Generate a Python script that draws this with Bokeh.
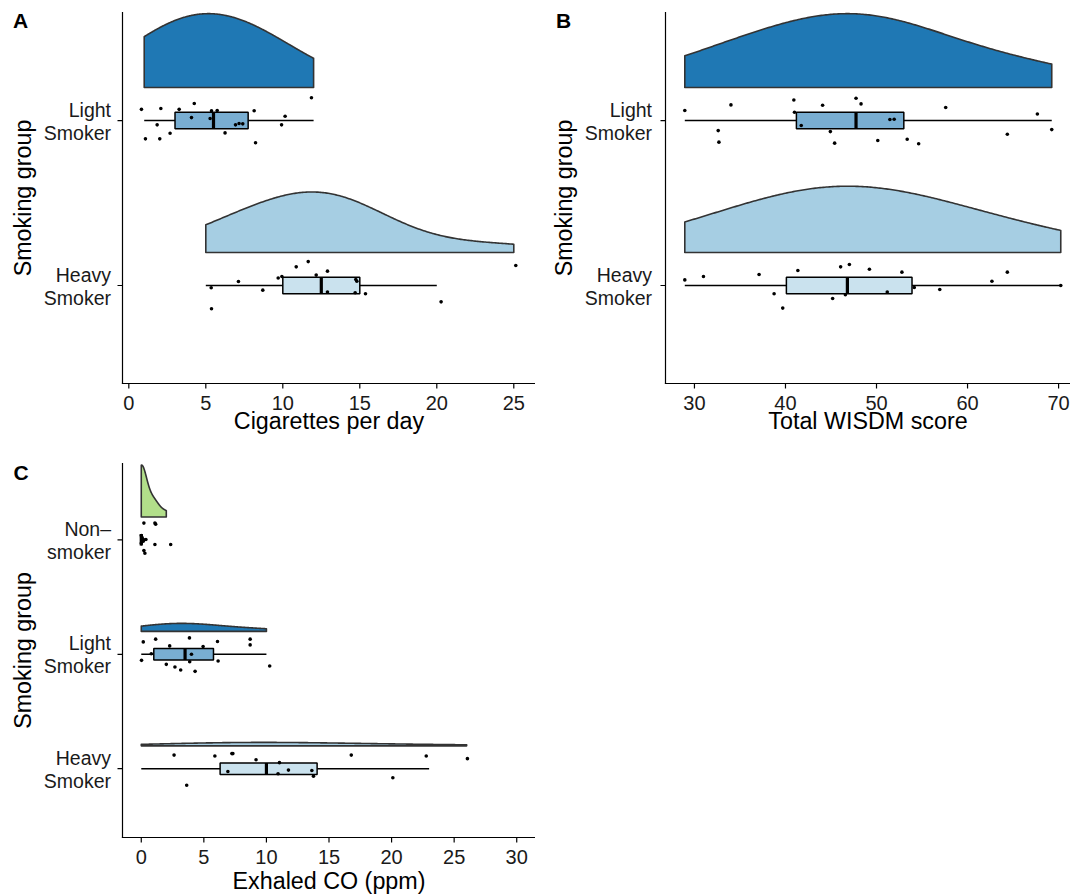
import numpy as np
from bokeh.plotting import figure
from bokeh.layouts import row, column
from bokeh.models import Range1d
from bokeh.core.properties import value
from bokeh.embed import file_html
from bokeh.resources import INLINE

FONT = "Liberation Sans"

# ---------------- data ----------------
# Panel A: cigarettes per day (points are plotted positions, jitter in group units)
cig_light_x = [0.82, 2.08, 3.27, 4.25, 5.37, 5.74, 8.14, 11.86, 4.07, 5.28, 10.15,
               1.84, 6.93, 7.16, 7.40, 9.92, 2.68, 6.25, 1.08, 2.01, 8.23]
cig_light_jit = [0.068, 0.073, 0.068, 0.103, 0.059, 0.061, 0.059, 0.138, 0.018, 0.012, 0.026,
                 -0.026, -0.026, -0.018, -0.020, -0.026, -0.077, -0.075, -0.111, -0.111, -0.135]
cig_heavy_x = [25.13, 11.65, 10.87, 12.90, 12.17, 9.70, 9.94, 7.12, 14.74, 14.81, 5.35,
               8.70, 12.90, 14.70, 15.37, 20.28, 5.37]
cig_heavy_jit = [0.121, 0.145, 0.113, 0.087, 0.063, 0.046, 0.055, 0.024, 0.036, 0.026, -0.014,
                 -0.028, -0.040, -0.044, -0.050, -0.099, -0.141]
# box stats: whisker low, Q1, median, Q3, whisker high
cig_light_box = [1, 3, 5.5, 7.75, 12]
cig_heavy_box = [5, 10, 12.5, 15, 20]
cig_light_range = [1, 12]
cig_heavy_range = [5, 25]

# Panel B: total WISDM score
wis_light_x = [28.94, 34.01, 40.92, 40.99, 44.08, 47.75, 48.30, 57.60, 67.67, 51.47, 51.94,
               32.61, 41.73, 44.93, 69.25, 32.69, 45.40, 50.14, 53.37, 54.63, 64.37]
wis_light_jit = [0.061, 0.095, 0.125, 0.050, 0.093, 0.135, 0.101, 0.079, 0.040, 0.006, 0.008,
                 -0.061, -0.030, -0.067, -0.055, -0.131, -0.137, -0.121, -0.113, -0.141, -0.083]
wis_heavy_x = [28.94, 30.99, 37.10, 41.36, 46.06, 47.02, 49.22, 52.79, 62.68, 64.37, 70.24,
               54.15, 51.18, 56.95, 38.75, 46.58, 45.18, 39.70]
wis_heavy_jit = [0.034, 0.055, 0.067, 0.091, 0.113, 0.127, 0.099, 0.081, 0.026, 0.081, 0.000,
                 -0.012, -0.040, -0.024, -0.050, -0.056, -0.079, -0.137]
wis_light_box = [28.94, 41.2, 47.75, 53.0, 69.25]
wis_heavy_box = [28.94, 40.1, 46.8, 53.9, 70.24]
wis_light_range = [28.94, 69.25]
wis_heavy_range = [28.94, 70.24]

# Panel C: exhaled CO (ppm)
co_non_x = [0.21, 1.09, 1.15, 0.00, 0.08, 0.21, 0.37, 0.00, 0.16, 0.05, 1.09, 2.35, 0.21, 0.29]
co_non_jit = [0.146, 0.146, 0.137, 0.038, 0.009, 0.000, 0.003, -0.030, -0.012, 0.023,
              -0.041, -0.041, -0.094, -0.117]
co_light_x = [0.16, 1.15, 3.85, 6.09, 8.70, 8.70, 2.27, 4.94, 0.80, 4.01, 0.02, 3.87, 6.14,
              10.26, 2.00, 2.69, 3.15, 4.30]
co_light_jit = [0.108, 0.132, 0.143, 0.111, 0.132, 0.082, 0.073, 0.067, 0.005, 0.000, -0.053,
                -0.065, -0.059, -0.103, -0.088, -0.111, -0.138, -0.149]
co_heavy_x = [2.62, 5.88, 7.24, 7.32, 9.17, 11.04, 11.76, 13.63, 13.76, 10.93, 6.92, 3.63,
              16.78, 22.77, 26.06, 20.10]
co_heavy_jit = [0.119, 0.111, 0.132, 0.132, 0.079, 0.053, -0.012, -0.015, -0.065, -0.044,
                -0.024, -0.144, 0.119, 0.111, 0.088, -0.079]
co_non_box = [0, 0, 0, 0, 0]
co_light_box = [0, 1.0, 3.5, 5.77, 10.0]
co_heavy_box = [0, 6.3, 10.0, 14.05, 23.0]
co_non_range = [0, 2.0]
co_light_range = [0, 10]
co_heavy_range = [0, 26]

cig_ticks = [0, 5, 10, 15, 20, 25]
wis_ticks = [30, 40, 50, 60, 70]
co_ticks = [0, 5, 10, 15, 20, 25, 30]
smoker_groups = {1: ("Heavy", "Smoker"), 2: ("Light", "Smoker")}
all_groups = {1: ("Heavy", "Smoker"), 2: ("Light", "Smoker"), 3: ("Non\u2013", "smoker")}

# ---------------- styling ----------------
COL_LIGHT = "#1F78B4"
COL_HEAVY = "#A6CEE3"
COL_NON = "#B2DF8A"
BOX_LIGHT = "#79AED2"
BOX_HEAVY = "#CAE2EE"
BOX_NON = "#D1ECB9"
OUTLINE = "#333333"
TEXT_COL = "#1a1a1a"

VIOLIN_OFFSET = 0.2
BOX_HALF = 0.05
# the svg text anchor sits this many em below the true baseline
BASELINE_FIX = 0.40


class Panel:
    """A figure whose frame fills the canvas; the plotting panel sits at
    pixel box (L, T, R, B) and shows xlim x ylim."""

    def __init__(self, W, H, L, T, R, B, xlim, ylim):
        self.sx = (R - L) / (xlim[1] - xlim[0])
        self.sy = (B - T) / (ylim[1] - ylim[0])
        self.xr = (xlim[0] - L / self.sx, xlim[1] + (W - R) / self.sx)
        self.yr = (ylim[0] - (H - B) / self.sy, ylim[1] + T / self.sy)
        self.xlim, self.ylim = xlim, ylim
        p = figure(width=W, height=H, x_range=Range1d(*self.xr), y_range=Range1d(*self.yr),
                   x_axis_location=None, y_axis_location=None, min_border=0,
                   output_backend="svg", toolbar_location=None)
        p.outline_line_color = None
        p.background_fill_color = "white"
        p.border_fill_color = "white"
        p.xgrid.visible = False
        p.ygrid.visible = False
        self.p = p

    def px(self, x):
        return self.xr[0] + x / self.sx

    def py(self, y):
        return self.yr[1] - y / self.sy

    def text(self, x, y, s, size, align="center", angle=0.0, bold=False, color=TEXT_COL):
        d = BASELINE_FIX * size
        dx = -np.sin(angle) * d / self.sx
        dy = np.cos(angle) * d / self.sy
        self.p.text(x=[v + dx for v in x], y=[v + dy for v in y], text=s,
                    text_font=value(FONT), text_font_size=f"{size}px",
                    text_align=align, text_baseline="alphabetic", angle=angle,
                    text_font_style="bold" if bold else "normal", text_color=color)

    def axes(self, xticks, xlabel, groups, label_gap, title_base, ytitle_x, letter, letter_xy):
        p = self.p
        x0, x1 = self.xlim
        y0, y1 = self.ylim
        p.segment(x0=[x0, x0], y0=[y0, y0], x1=[x0, x1], y1=[y1, y0],
                  line_color="black", line_width=1.2, line_cap="square")
        # x axis ticks and labels
        n = len(xticks)
        p.segment(x0=xticks, y0=[y0] * n, x1=xticks, y1=[y0 - 5 / self.sy] * n,
                  line_color="black", line_width=1.2)
        self.text(xticks, [y0 - 27 / self.sy] * n, [str(t) for t in xticks], 20)
        self.text([(x0 + x1) / 2], [y0 - title_base / self.sy], [xlabel], 23.3, color="black")
        # y axis ticks and two-line group labels
        pos = list(groups.keys())
        m = len(pos)
        p.segment(x0=[x0 - 5 / self.sx] * m, y0=pos, x1=[x0] * m, y1=pos,
                  line_color="black", line_width=1.2)
        lx = [x0 - label_gap / self.sx] * m
        self.text(lx, [g + 3 / self.sy for g in pos], [groups[g][0] for g in pos],
                  19.5, align="right")
        self.text(lx, [g - 20 / self.sy for g in pos], [groups[g][1] for g in pos],
                  19.5, align="right")
        self.text([self.px(ytitle_x)], [(y0 + y1) / 2], ["Smoking group"], 23.3,
                  angle=np.pi / 2, color="black")
        self.text([self.px(letter_xy[0])], [self.py(letter_xy[1])], [letter], 21,
                  align="left", bold=True, color="black")


def half_violin(pn, vals, rng, bw, peak, pos, fill):
    lo, hi = rng
    grid = np.linspace(lo, hi, 240)
    v = np.asarray(vals, dtype=float)
    dens = np.exp(-0.5 * ((grid[:, None] - v[None, :]) / bw) ** 2).sum(axis=1)
    dens = dens / dens.max() * peak
    base = pos + VIOLIN_OFFSET
    xs = np.concatenate([[lo], grid, [hi]])
    ys = np.concatenate([[base], base + dens, [base]])
    pn.p.patch(xs, ys, fill_color=fill, line_color=OUTLINE, line_width=1.6, line_join="round")


def boxplot(pn, stats, pos, fill):
    p = pn.p
    wlo, q1, med, q3, whi = stats
    p.segment(x0=[wlo, q3], y0=[pos, pos], x1=[q1, whi], y1=[pos, pos],
              line_color="black", line_width=1.4)
    p.quad(left=[q1], right=[q3], bottom=[pos - BOX_HALF], top=[pos + BOX_HALF],
           fill_color=fill, line_color="black", line_width=1.5)
    p.segment(x0=[med], y0=[pos - BOX_HALF], x1=[med], y1=[pos + BOX_HALF],
              line_color="black", line_width=3.2)


def jitter_points(pn, xs, jit, pos):
    pn.p.scatter(xs, [pos + j for j in jit], size=3.6, color="black", line_color=None)


# ---------------- Panel A ----------------
A = Panel(535, 447, 122, 12, 535, 383, (-0.41, 26.41), (0.406, 2.655))
half_violin(A, cig_light_x, cig_light_range, 3.5, 0.448, 2, COL_LIGHT)
half_violin(A, cig_heavy_x, cig_heavy_range, 3.5, 0.367, 1, COL_HEAVY)
boxplot(A, cig_light_box, 2, BOX_LIGHT)
boxplot(A, cig_heavy_box, 1, BOX_HEAVY)
jitter_points(A, cig_light_x, cig_light_jit, 2)
jitter_points(A, cig_heavy_x, cig_heavy_jit, 1)
A.axes(cig_ticks, "Cigarettes per day", smoker_groups, 11.5, 46.5, 31.5, "A", (12.5, 28.3))

# ---------------- Panel B ----------------
B = Panel(535, 447, 130, 12, 535, 383, (26.82, 71.31), (0.406, 2.655))
half_violin(B, wis_light_x, wis_light_range, 8.5, 0.448, 2, COL_LIGHT)
half_violin(B, wis_heavy_x, wis_heavy_range, 10.0, 0.402, 1, COL_HEAVY)
boxplot(B, wis_light_box, 2, BOX_LIGHT)
boxplot(B, wis_heavy_box, 1, BOX_HEAVY)
jitter_points(B, wis_light_x, wis_light_jit, 2)
jitter_points(B, wis_heavy_x, wis_heavy_jit, 1)
B.axes(wis_ticks, "Total WISDM score", smoker_groups, 13.5, 46.5, 37.5, "B", (20.5, 28.3))

# ---------------- Panel C ----------------
C = Panel(535, 447, 122, 16, 535, 390, (-1.5, 31.5), (0.399, 3.667))
# exhaled CO is read in whole ppm
half_violin(C, np.round(co_non_x), co_non_range, 0.45, 0.453, 3, COL_NON)
half_violin(C, np.round(co_light_x), co_light_range, 2.6, 0.07, 2, COL_LIGHT)
half_violin(C, np.round(co_heavy_x), co_heavy_range, 6.0, 0.03, 1, COL_HEAVY)
boxplot(C, co_non_box, 3, BOX_NON)
boxplot(C, co_light_box, 2, BOX_LIGHT)
boxplot(C, co_heavy_box, 1, BOX_HEAVY)
jitter_points(C, co_non_x, co_non_jit, 3)
jitter_points(C, co_light_x, co_light_jit, 2)
jitter_points(C, co_heavy_x, co_heavy_jit, 1)
C.axes(co_ticks, "Exhaled CO (ppm)", all_groups, 11.5, 53.0, 31.5, "C", (13.0, 33.0))

layout = column(row(A.p, B.p, spacing=0), C.p, spacing=0)
open("out.html", "w").write(file_html(layout, INLINE))
